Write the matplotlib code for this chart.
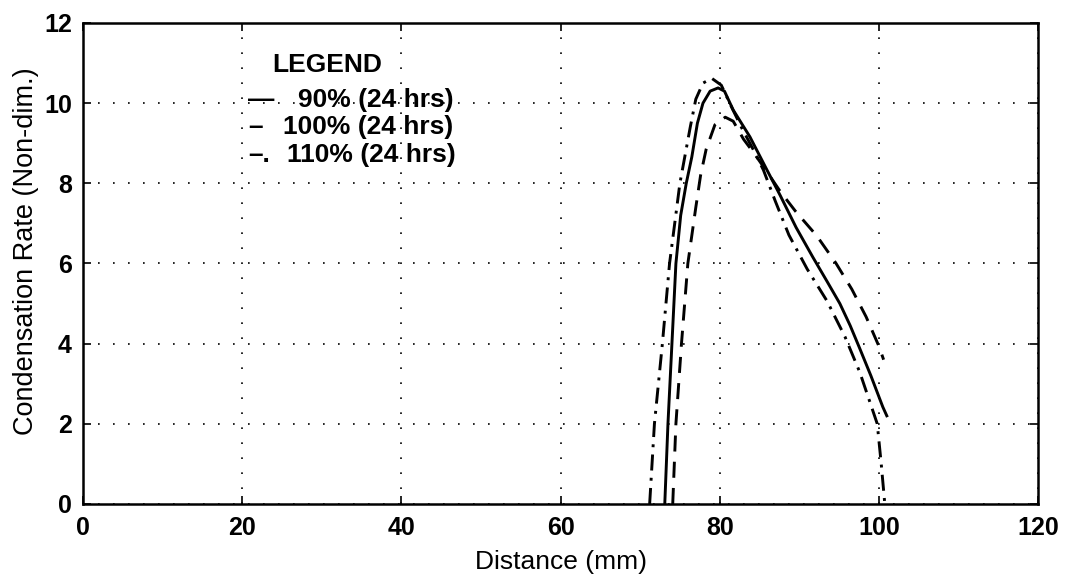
import matplotlib
matplotlib.use("Agg")
import matplotlib.pyplot as plt

plt.rcParams['font.family'] = ['Liberation Sans', 'DejaVu Sans']

# 90% (24 hrs) - solid
x90 = [73.1, 73.5, 74.0, 74.5, 75.1, 75.8, 76.5, 77.2, 77.9, 78.8, 79.8, 80.6, 81.7,
       83.8, 85.95, 87.6, 89.6, 91.7, 93.5, 95.1, 96.4, 97.6, 99.0, 100.5, 101.0]
y90 = [0.0, 2.0, 4.0, 6.0, 7.2, 8.0, 8.66, 9.5, 10.0, 10.3, 10.38, 10.3, 9.83,
       9.16, 8.33, 7.7, 6.9, 6.16, 5.55, 5.0, 4.45, 3.88, 3.2, 2.42, 2.2]

# 100% (24 hrs) - dashed
x100 = [74.1, 74.5, 75.2, 76.0, 77.0, 77.6, 78.3, 79.4, 80.7, 81.7, 83.0, 84.5, 85.9,
        87.6, 89.5, 92.2, 94.6, 96.6, 98.4, 100.0, 100.6]
y100 = [0.0, 2.0, 4.0, 6.0, 7.4, 8.2, 8.85, 9.46, 9.65, 9.55, 9.1, 8.7, 8.3,
        7.8, 7.31, 6.69, 6.01, 5.36, 4.67, 3.94, 3.6]

# 110% (24 hrs) - dash-dot
x110 = [71.2, 71.8, 72.8, 73.7, 75.0, 76.3, 77.0, 77.9, 79.0, 80.2, 81.5, 82.8, 84.2,
        85.5, 87.0, 88.7, 91.0, 93.5, 95.75, 97.6, 99.0, 99.8, 100.3, 100.75]
y110 = [0.0, 2.0, 4.0, 6.0, 8.0, 9.4, 10.1, 10.5, 10.62, 10.45, 9.9, 9.37, 8.85,
        8.33, 7.55, 6.71, 5.86, 5.06, 4.17, 3.29, 2.47, 2.0, 1.0, 0.0]

xticks = [0, 20, 40, 60, 80, 100, 120]
yticks = [0, 2, 4, 6, 8, 10, 12]

legend_title = "LEGEND"
legend_marks = ["\u2014", "\u2013", "\u2013."]
legend_labels = ["90% (24 hrs)", "100% (24 hrs)", "110% (24 hrs)"]

fig = plt.figure(figsize=(10.7, 5.75), dpi=100)
ax = fig.add_axes([0.0776, 0.1235, 0.8925, 0.8365])

ax.plot(x90, y90, color='black', lw=2.1, ls='-')
ax.plot(x100, y100, color='black', lw=2.1, ls=(0, (5.5, 3.5)))
ax.plot(x110, y110, color='black', lw=2.1, ls=(0, (5.5, 2.5, 1, 2.5)))

ax.set_xlim(0, 120)
ax.set_ylim(0, 12)
ax.set_xticks(xticks)
ax.set_yticks(yticks)
ax.set_xticklabels([str(v) for v in xticks], fontsize=18, fontweight='bold')
ax.set_yticklabels([str(v) for v in yticks], fontsize=18, fontweight='bold')
ax.tick_params(axis='x', pad=9)
ax.tick_params(axis='y', pad=8)
ax.tick_params(direction='in', length=6, width=1.2, top=True, right=True)
ax.grid(True, color='black', ls=(0, (1, 8)), lw=1.2)
for s in ax.spines.values():
    s.set_linewidth(1.8)

ax.set_xlabel("Distance (mm)", fontsize=19, labelpad=7)
ax.set_ylabel("Condensation Rate (Non-dim.)", fontsize=19.5)
ax.yaxis.set_label_coords(-0.046, 0.525)

ax.text(0.198, 0.913, legend_title, transform=ax.transAxes, fontsize=19,
        fontweight='bold', va='center', ha='left')
ys = [0.840, 0.784, 0.726]
mark_x = [0.1728, 0.1728, 0.1728]
label_x = [0.2251, 0.2094, 0.2136]
for m, t, yy, mx, lx in zip(legend_marks, legend_labels, ys, mark_x, label_x):
    ax.text(mx, yy, m, transform=ax.transAxes, fontsize=19,
            fontweight='bold', va='center', ha='left')
    ax.text(lx, yy, t, transform=ax.transAxes, fontsize=19,
            fontweight='bold', va='center', ha='left')

fig.savefig("out.png", dpi=100)
